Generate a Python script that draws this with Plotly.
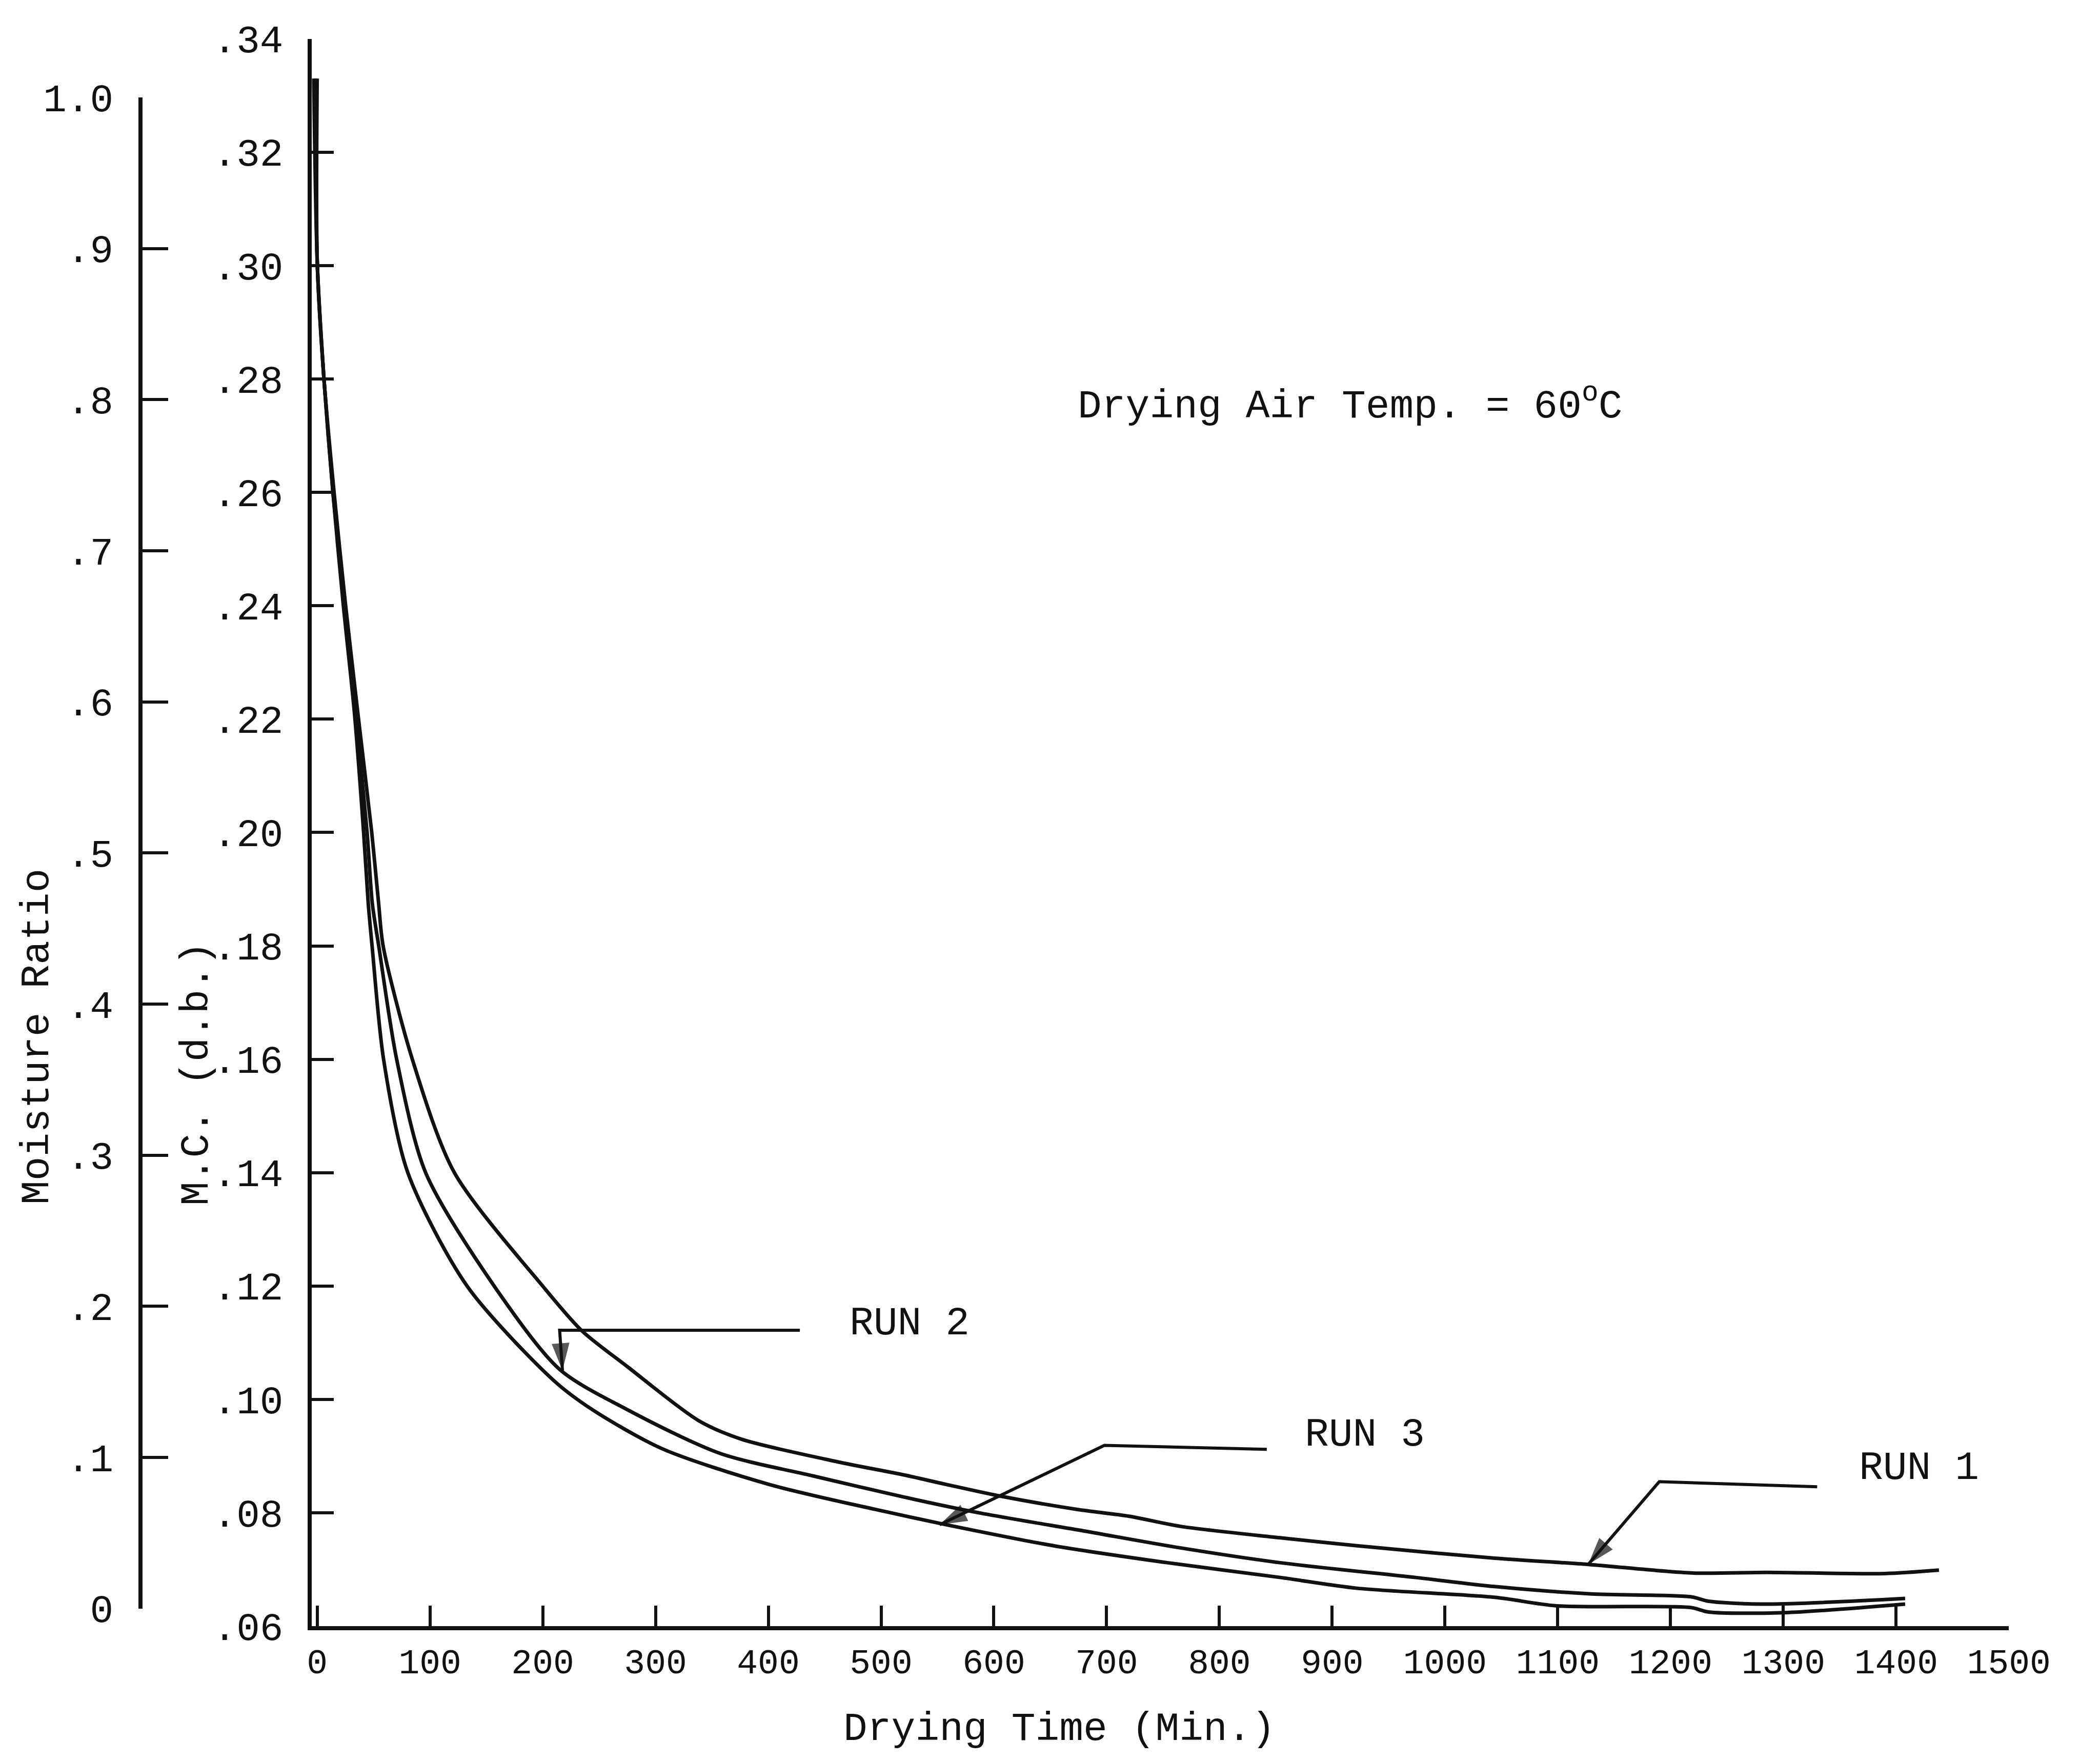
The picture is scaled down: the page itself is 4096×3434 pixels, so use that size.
import plotly.graph_objects as go

# ---------------- data: drying curves (time in min, moisture content d.b.) ----------------
run1_time = [0, 0.1, 6, 15, 25, 36, 48.4, 54.5, 58.5, 84.4, 121.7, 200, 234.8, 275, 338, 376,
             464, 520, 558, 607, 674, 720, 766, 854, 922, 1044, 1127, 1218, 1286, 1390, 1438]
run1_mc = [0.333, 0.3005, 0.2801, 0.2600, 0.2405, 0.2212, 0.2000, 0.1875, 0.1800, 0.1600, 0.1400,
           0.1200, 0.1121, 0.1058, 0.0963, 0.0930, 0.0889, 0.0867, 0.0850, 0.0829, 0.0806, 0.0794,
           0.0776, 0.0756, 0.0742, 0.0720, 0.0709, 0.0694, 0.0695, 0.0693, 0.0699]

run2_time = [-1.5, 0.1, 6, 14, 24, 34, 44.3, 48.9, 54.6, 70.5, 96.2, 157, 215, 275, 357, 440,
             520, 587, 680, 766, 854, 974, 1044, 1130, 1218, 1234, 1286, 1408]
run2_mc = [0.333, 0.3005, 0.2801, 0.2600, 0.2405, 0.2212, 0.2000, 0.1875, 0.1800, 0.1600, 0.1400,
           0.1200, 0.1053, 0.0982, 0.0905, 0.0865, 0.0828, 0.0800, 0.0768, 0.0738, 0.0712, 0.0686,
           0.0670, 0.0657, 0.0652, 0.0644, 0.0639, 0.0649]

run3_time = [-3, 0.1, 6, 14, 23, 33, 41.2, 45.3, 48.7, 58.9, 80.4, 133, 210, 244, 306, 401,
             495, 558, 653, 754, 854, 922, 1044, 1099, 1218, 1234, 1301, 1408]
run3_mc = [0.333, 0.3005, 0.2801, 0.2600, 0.2405, 0.2212, 0.2000, 0.1875, 0.1800, 0.1600, 0.1400,
           0.1200, 0.1033, 0.0982, 0.0913, 0.0850, 0.0806, 0.0779, 0.0742, 0.0712, 0.0686, 0.0667,
           0.0651, 0.0636, 0.0633, 0.0625, 0.0624, 0.0639]

# ---------------- axes ----------------
time_ticks = [0, 100, 200, 300, 400, 500, 600, 700, 800, 900, 1000, 1100, 1200, 1300, 1400, 1500]
time_labels = ["0", "100", "200", "300", "400", "500", "600", "700", "800", "900", "1000",
               "1100", "1200", "1300", "1400", "1500"]
mc_ticks = [0.06, 0.08, 0.10, 0.12, 0.14, 0.16, 0.18, 0.20, 0.22, 0.24, 0.26, 0.28, 0.30, 0.32, 0.34]
mc_labels = [".06", ".08", ".10", ".12", ".14", ".16", ".18", ".20", ".22", ".24", ".26", ".28",
             ".30", ".32", ".34"]
mr_ticks = [0, 0.1, 0.2, 0.3, 0.4, 0.5, 0.6, 0.7, 0.8, 0.9, 1.0]
mr_labels = ["0", ".1", ".2", ".3", ".4", ".5", ".6", ".7", ".8", ".9", "1.0"]

# ---------------- run call-outs: label anchor, leader line ending in the arrow tip ----------------
run_names = ["RUN 1", "RUN 2", "RUN 3"]
label_time = [1366, 471, 875]
label_mc = [0.0879, 0.1134, 0.0938]
leader_time = [[1330, 1190, 1127], [428, 215, 217.5], [842, 698, 552]]
leader_mc = [[0.0846, 0.0855, 0.0709], [0.1122, 0.1122, 0.1051], [0.0912, 0.0919, 0.0779]]

W, H = 4096, 3434
INK = "#111111"
FONT = "Liberation Mono, Courier New, monospace"


def fx(px):
    return px / W


def fy(px):
    return 1 - px / H


def text_font(size):
    return dict(family=FONT, size=size, color=INK)


fig = go.Figure()

for t, m, name in [(run1_time, run1_mc, "Run 1"), (run2_time, run2_mc, "Run 2"),
                   (run3_time, run3_mc, "Run 3")]:
    fig.add_trace(go.Scatter(x=t, y=m, mode="lines", name=name,
                             line=dict(color=INK, width=7, shape="spline", smoothing=0.8),
                             hoverinfo="skip", showlegend=False))

# leader lines of the call-outs, with an arrow head on the last vertex
for lt, lm in zip(leader_time, leader_mc):
    n = len(lt)
    fig.add_trace(go.Scatter(
        x=lt, y=lm, mode="lines+markers",
        line=dict(color=INK, width=6),
        marker=dict(symbol=["circle"] * (n - 1) + ["arrow"],
                    size=[0] * (n - 1) + [56], angleref="previous",
                    color=INK, line=dict(width=0)),
        hoverinfo="skip", showlegend=False))

# placeholder so the moisture-ratio axis is drawn
fig.add_trace(go.Scatter(x=[0], y=[0], yaxis="y2", mode="lines", hoverinfo="skip",
                         showlegend=False, line=dict(color="rgba(0,0,0,0)")))

annotations = []
for name, lx, ly in zip(run_names, label_time, label_mc):
    annotations.append(dict(x=lx, y=ly, xref="x", yref="y", text=name, showarrow=False,
                            xanchor="left", yanchor="middle", font=text_font(78)))

annotations.append(dict(x=673.6, y=0.2757, xref="x", yref="y",
                        text="Drying Air Temp. = 60<sup>o</sup>C", showarrow=False,
                        xanchor="left", yanchor="middle", font=text_font(78)))
annotations.append(dict(x=fx(2066), y=fy(3372), xref="paper", yref="paper",
                        text="Drying Time (Min.)", showarrow=False,
                        xanchor="center", yanchor="middle", font=text_font(78)))
annotations.append(dict(x=fx(73), y=fy(2022), xref="paper", yref="paper",
                        text="Moisture Ratio", showarrow=False, textangle=-90,
                        xanchor="center", yanchor="middle", font=text_font(78)))
annotations.append(dict(x=fx(384), y=fy(2094), xref="paper", yref="paper",
                        text="M.C. (d.b.)", showarrow=False, textangle=-90,
                        xanchor="center", yanchor="middle", font=text_font(78)))

y_tick_font = text_font(76)
x_tick_font = text_font(68)

fig.update_layout(
    width=W, height=H,
    margin=dict(l=0, r=0, t=0, b=0),
    paper_bgcolor="white", plot_bgcolor="rgba(0,0,0,0)",
    showlegend=False,
    xaxis=dict(domain=[fx(607.6), fx(3918.3)], range=[-5, 1500], anchor="y",
               showline=True, linecolor=INK, linewidth=8, showgrid=False, zeroline=False,
               ticks="inside", ticklen=40, tickwidth=6, tickcolor=INK,
               tickmode="array", tickvals=time_ticks, ticktext=time_labels,
               tickfont=x_tick_font, ticklabelstandoff=2, automargin=False),
    yaxis=dict(domain=[fy(3171.2), fy(75.75)], range=[0.06, 0.34], anchor="x", side="left",
               showline=True, linecolor=INK, linewidth=8, showgrid=False, zeroline=False,
               ticks="inside", ticklen=43, tickwidth=6, tickcolor=INK,
               tickmode="array", tickvals=mc_ticks, ticktext=mc_labels,
               tickfont=y_tick_font, ticklabelstandoff=32, automargin=False),
    yaxis2=dict(domain=[fy(3136.7), fy(189.9)], range=[0, 1], anchor="free",
                position=fx(274.3), side="left",
                showline=True, linecolor=INK, linewidth=8, showgrid=False, zeroline=False,
                ticks="inside", ticklen=50, tickwidth=6, tickcolor=INK,
                tickmode="array", tickvals=mr_ticks, ticktext=mr_labels,
                tickfont=y_tick_font, ticklabelstandoff=34, automargin=False),
    annotations=annotations,
)

fig.write_html("out.html")
